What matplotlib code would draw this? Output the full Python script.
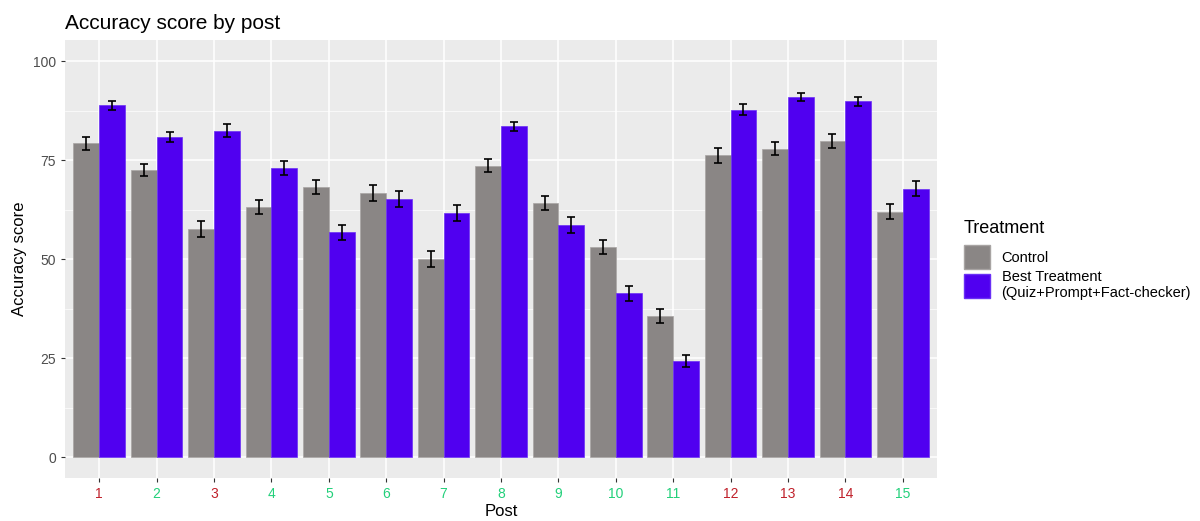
import numpy as np
import matplotlib
matplotlib.use("Agg")
import matplotlib.pyplot as plt
from matplotlib.patches import Patch

plt.rcParams['font.family'] = ['Liberation Sans', 'DejaVu Sans']

posts = list(range(1, 16))
control = [79.2, 72.5, 57.6, 63.2, 68.2, 66.7, 50.0, 73.6, 64.2, 53.1, 35.6, 76.2, 77.9, 79.8, 62.0]
control_err = [1.6, 1.4, 2.0, 1.7, 1.7, 2.1, 2.0, 1.6, 1.8, 1.8, 1.7, 1.9, 1.7, 1.7, 1.8]
treatment = [88.8, 80.8, 82.4, 73.0, 56.8, 65.2, 61.7, 83.5, 58.7, 41.4, 24.3, 87.7, 90.9, 89.8, 67.8]
treatment_err = [1.2, 1.2, 1.6, 1.7, 1.9, 2.1, 2.0, 1.2, 2.0, 1.9, 1.5, 1.4, 1.1, 1.2, 1.8]
label_colors = ['red', 'green', 'red', 'green', 'green', 'green', 'green', 'green',
                'green', 'green', 'green', 'red', 'red', 'red', 'green']

COLORS = {'Control': '#8A8685', 'Treatment': '#5000F0'}
TICK_COLORS = {'red': '#C0202A', 'green': '#22D07A'}

fig = plt.figure(figsize=(12, 5.21), dpi=100)
ax = fig.add_axes([0.054, 0.0825, 0.727, 0.8405])

x = np.array(posts)
w = 0.45
ax.bar(x - w / 2, control, width=w, color=COLORS['Control'], edgecolor='#A8A4A3', linewidth=0.5, zorder=2)
ax.bar(x + w / 2, treatment, width=w, color=COLORS['Treatment'], edgecolor='#6A30F5', linewidth=0.5, zorder=2)
ax.errorbar(x - w / 2, control, yerr=control_err, fmt='none', ecolor='black', elinewidth=1.2, capsize=3, capthick=1.2, zorder=3)
ax.errorbar(x + w / 2, treatment, yerr=treatment_err, fmt='none', ecolor='black', elinewidth=1.2, capsize=3, capthick=1.2, zorder=3)

# ggplot-like styling
ax.set_facecolor('#EBEBEB')
ax.set_xlim(0.4, 15.6)
ax.set_ylim(-5.3, 105.3)
ax.set_yticks([0, 25, 50, 75, 100])
ax.set_yticks([12.5, 37.5, 62.5, 87.5], minor=True)
ax.set_xticks(posts)
ax.set_xticklabels([str(p) for p in posts])
for lbl, c in zip(ax.get_xticklabels(), label_colors):
    lbl.set_color(TICK_COLORS[c])
for lbl in ax.get_yticklabels():
    lbl.set_color('#4D4D4D')
ax.grid(True, which='major', color='white', linewidth=1.1, zorder=0)
ax.grid(True, which='minor', axis='y', color='white', linewidth=0.5, zorder=0)
ax.set_axisbelow(True)
for s in ax.spines.values():
    s.set_visible(False)
ax.tick_params(axis='both', which='major', length=3, color='#333333', labelsize=10)
ax.tick_params(axis='y', which='minor', length=0)

ax.set_xlabel('Post', fontsize=12, labelpad=2)
ax.set_ylabel('Accuracy score', fontsize=12, labelpad=4)
ax.set_title('Accuracy score by post', fontsize=15, loc='left', pad=8)

handles = [Patch(facecolor=COLORS['Control'], edgecolor='#A8A4A3', label='Control'),
           Patch(facecolor=COLORS['Treatment'], edgecolor='#6A30F5',
                 label='Best Treatment\n(Quiz+Prompt+Fact-checker)')]
leg = fig.legend(handles=handles, title='Treatment', loc='upper left',
                 bbox_to_anchor=(0.797, 0.592), frameon=False, fontsize=10.5,
                 title_fontsize=13, handlelength=1.8, handleheight=2.1,
                 handletextpad=0.8, labelspacing=0.1, borderpad=0)
leg._legend_box.align = 'left'
leg._legend_box.sep = 6

fig.savefig('out.png', dpi=100)
